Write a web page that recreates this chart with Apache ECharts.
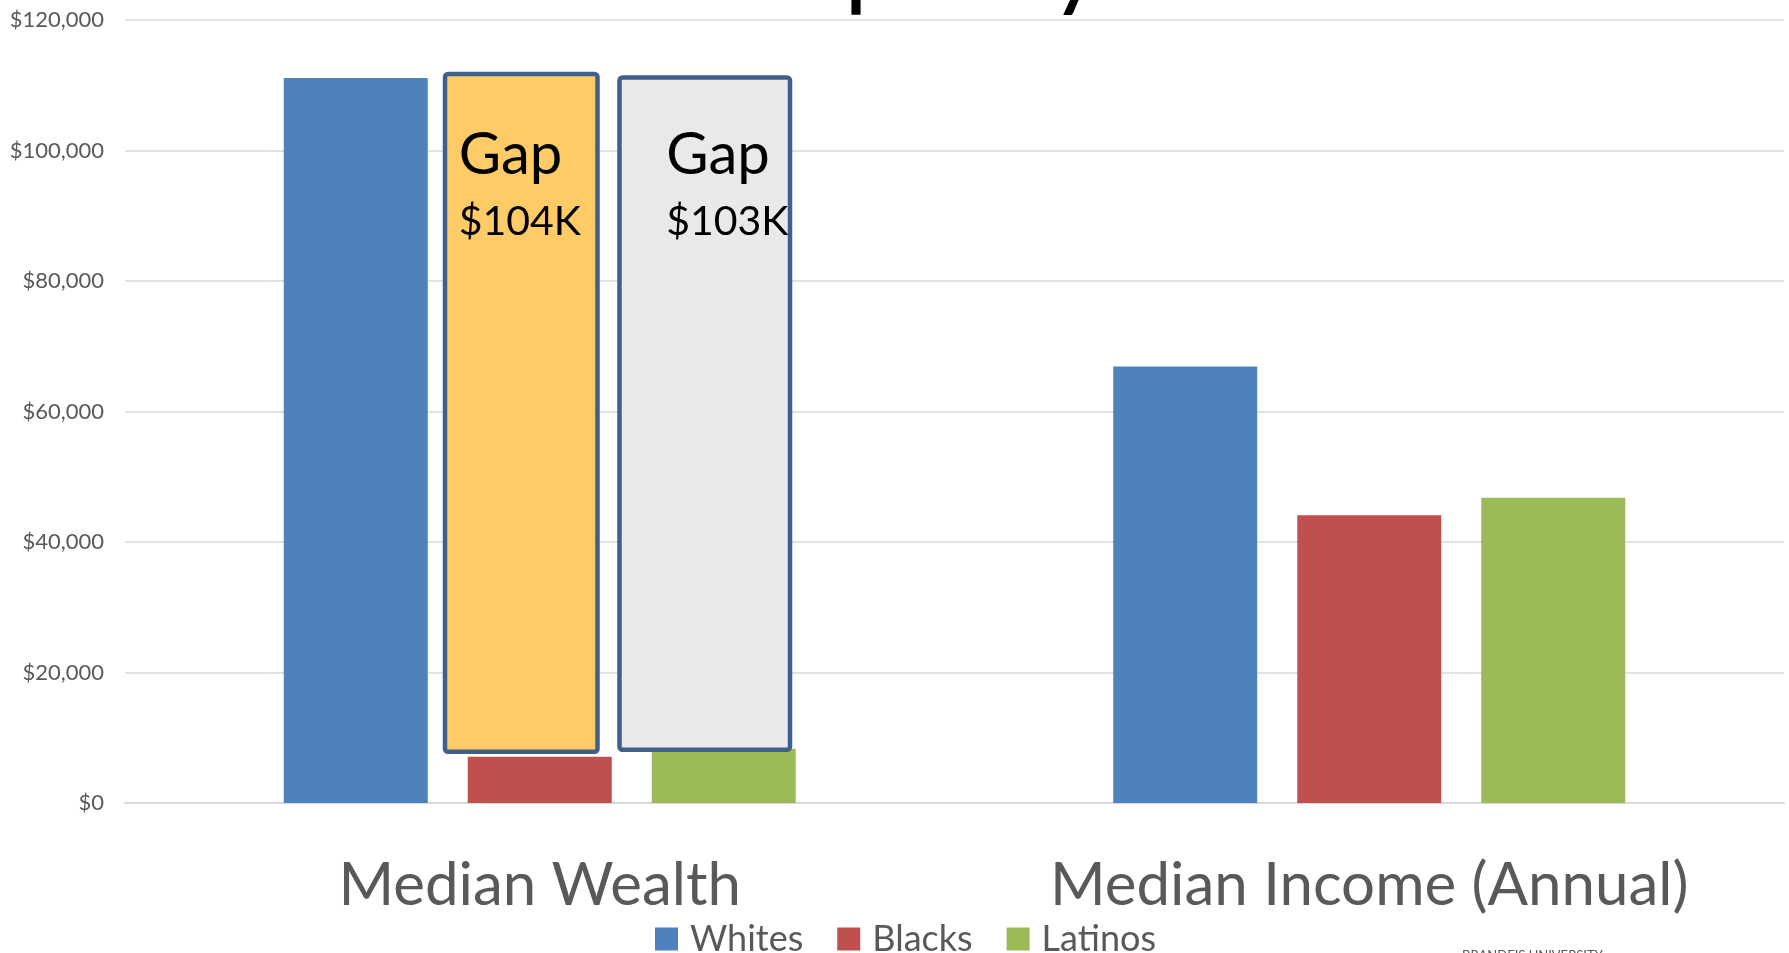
<!DOCTYPE html>
<html><head><meta charset="utf-8">
<script src="https://cdn.jsdelivr.net/npm/echarts@6/dist/echarts.min.js"></script>
<style>html,body{margin:0;padding:0;background:#fff}#c{width:1789px;height:953px}</style>
</head><body><div id="c"></div>
<script>
// ---- data ----
const categories = ['Median Wealth', 'Median Income (Annual)'];
const seriesNames = ['Whites', 'Blacks', 'Latinos'];
const whites = [111100, 66900];
const blacks = [7100, 44100];
const latinos = [8300, 46800];
const yTicks = [0, 20000, 40000, 60000, 80000, 100000, 120000];
const titleText = 'Disparity';
const footerText = 'BRANDEIS UNIVERSITY';
// gap annotations: Whites vs the series in slot (1 = Blacks, 2 = Latinos), within category index
const gapCategory = [0, 0];
const gapSlot = [1, 2];
const gapWord = 'Gap';

// ---- styling ----
const colors = ['#4F81BD', '#C0504D', '#9BBB59'];
const BAR_W = 144, BAR_GAP = 40;
const gapStyle = [
  { fill: '#FECB67', dx: -18.5, w: 157, tx: 16, dyTop: -4, dyBottom: -5 },
  { fill: '#E9E9E9', dx: -19, w: 175, tx: 49, dyTop: -0.6, dyBottom: 1 }
];
const FONT = 'Lato';

const slotValues = [whites, blacks, latinos];
const gapData = gapCategory.map((c, i) => [
  c, slotValues[gapSlot[i]][c], whites[c], gapSlot[i],
  Math.round((whites[c] - slotValues[gapSlot[i]][c]) / 1000)
]);

const chart = echarts.init(document.getElementById('c'), null, { renderer: 'canvas' });
const option = {
  animation: false,
  backgroundColor: '#fff',
  title: {
    text: titleText, left: 694, top: -92,
    textStyle: { fontFamily: FONT, fontSize: 102, color: '#000', fontWeight: 'normal' }
  },
  graphic: [{
    type: 'text', left: 1462, top: 949,
    style: { text: footerText, font: '13px ' + FONT, fill: '#595959' }
  }],
  legend: {
    data: seriesNames, left: 650, top: 916, icon: 'rect',
    itemWidth: 23, itemHeight: 23, itemGap: 34,
    textStyle: { fontFamily: FONT, fontSize: 36, color: '#595959', padding: [0, 0, 0, 7] }
  },
  grid: { left: 125, right: 5, top: 20, bottom: 150, containLabel: false },
  xAxis: {
    type: 'category', data: categories,
    axisLine: { lineStyle: { color: '#D9D9D9', width: 2 } },
    axisTick: { show: false },
    axisLabel: { fontFamily: FONT, fontSize: 60, color: '#595959', margin: 53, interval: 0 }
  },
  yAxis: {
    type: 'value', min: yTicks[0], max: yTicks[yTicks.length - 1], interval: yTicks[1] - yTicks[0],
    axisLine: { show: false }, axisTick: { show: false },
    splitLine: { lineStyle: { color: '#D9D9D9', width: 1.5 } },
    axisLabel: {
      fontFamily: FONT, fontSize: 22, color: '#595959', margin: 21,
      formatter: v => '$' + v.toLocaleString('en-US')
    }
  },
  series: [
    ...seriesNames.map((n, i) => ({
      name: n, type: 'bar', data: slotValues[i], barWidth: BAR_W,
      barGap: (BAR_GAP / BAR_W * 100).toFixed(2) + '%',
      itemStyle: { color: colors[i] }
    })),
    {
      type: 'custom', name: 'gap', z: 5, data: gapData,
      encode: { x: 0, y: [1, 2] },
      renderItem: function (params, api) {
        const st = gapStyle[params.dataIndex];
        const cat = api.value(0), low = api.value(1), high = api.value(2), slot = api.value(3);
        const tp = api.coord([cat, high]);
        const bt = api.coord([cat, low]);
        const cx = tp[0] + (slot - 1) * (BAR_W + BAR_GAP) + st.dx;
        const x0 = cx - st.w / 2;
        const y0 = tp[1] + st.dyTop, y1 = bt[1] + st.dyBottom;
        return {
          type: 'group',
          children: [
            {
              type: 'rect',
              shape: { x: x0 + 2.25, y: y0, width: st.w - 4.5, height: y1 - y0, r: 3 },
              style: { fill: st.fill, stroke: '#3F5F8C', lineWidth: 4.5 }
            },
            {
              type: 'text',
              style: { text: gapWord, x: x0 + st.tx, y: tp[1] + 77, font: '58px ' + FONT, fill: '#000', align: 'left', verticalAlign: 'middle' }
            },
            {
              type: 'text',
              style: { text: '$' + api.value(4) + 'K', x: x0 + st.tx, y: tp[1] + 144, font: '41px ' + FONT, fill: '#000', align: 'left', verticalAlign: 'middle' }
            }
          ]
        };
      }
    }
  ]
};
chart.setOption(option);
</script>
</body></html>
